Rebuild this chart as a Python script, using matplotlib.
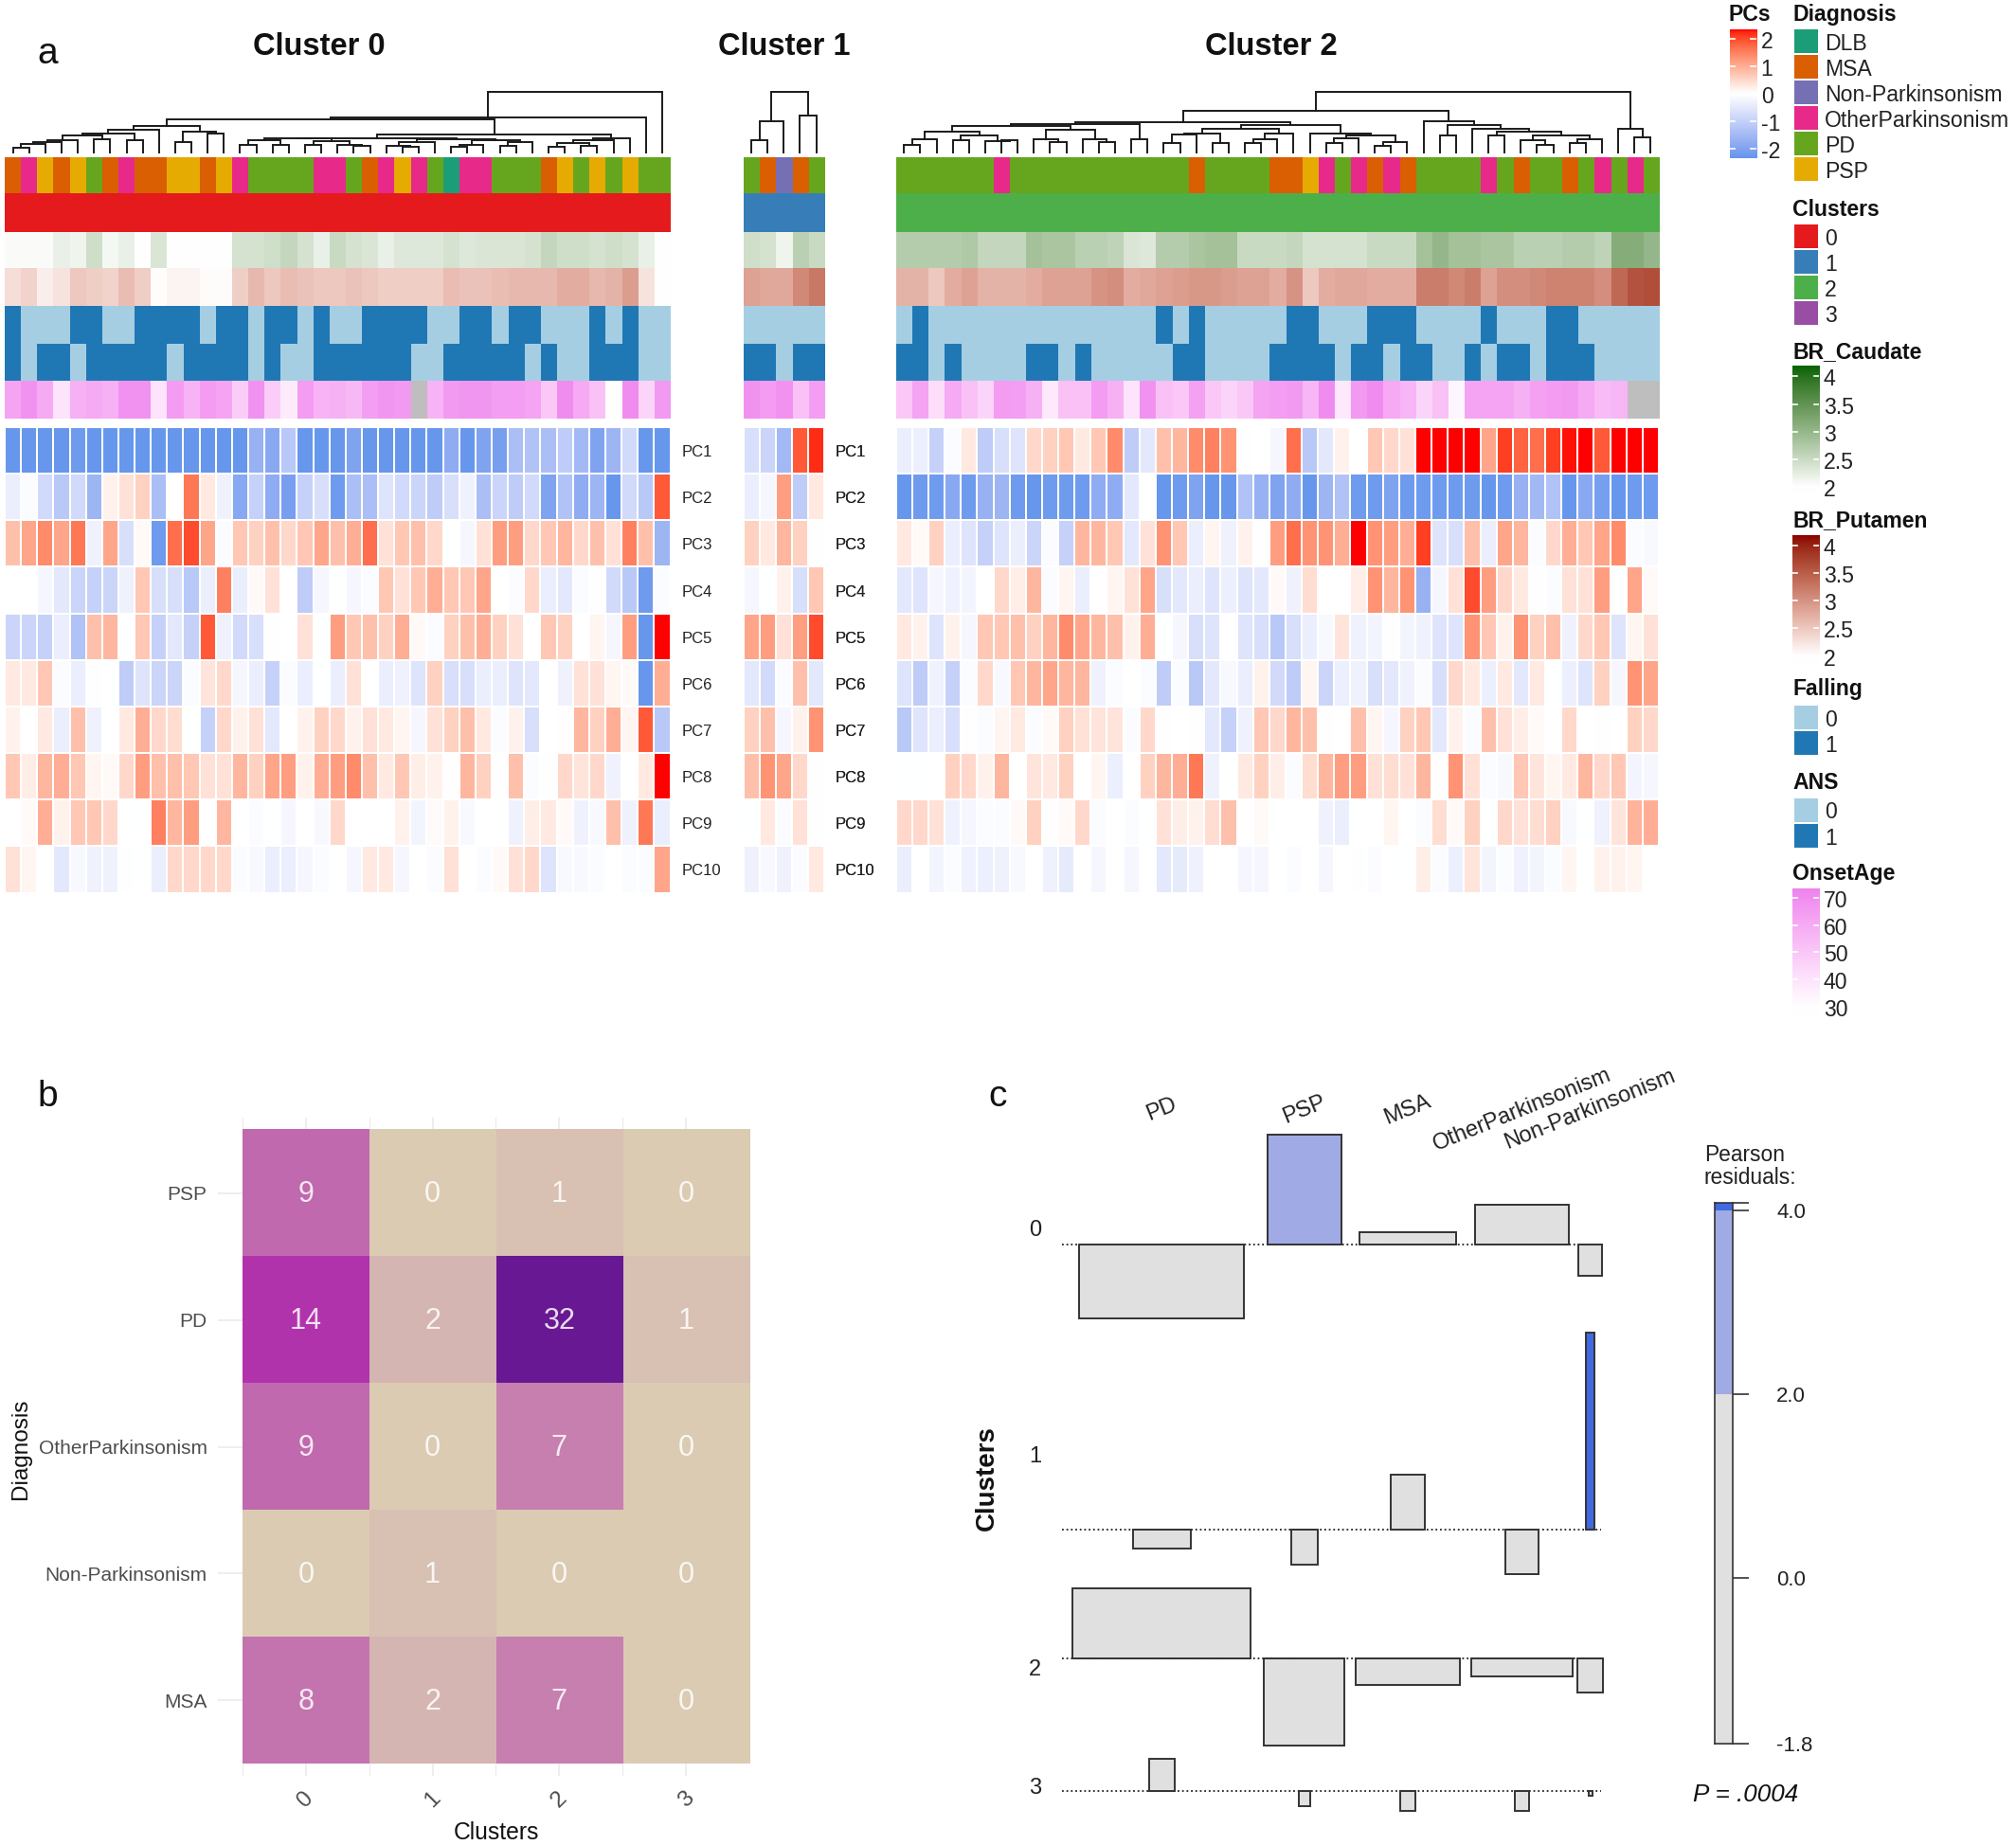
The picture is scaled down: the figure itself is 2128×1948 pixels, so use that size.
import numpy as np
import matplotlib
matplotlib.use("Agg")
from matplotlib import pyplot as plt
from matplotlib.colors import LinearSegmentedColormap, ListedColormap, to_rgb
from matplotlib.transforms import ScaledTranslation

plt.rcParams['font.family'] = ['Liberation Sans', 'DejaVu Sans']

W, H = 2128, 1948
nan = float('nan')

# ---- panel a data ----
pc_names = ["PC1", "PC2", "PC3", "PC4", "PC5", "PC6", "PC7", "PC8", "PC9", "PC10"]

pcs_c0 = [
    [-2.3,-2.3,-2.3,-2.3,-2.2,-2.3,-2.3,-2.3,-2.3,-2.3,-2.3,-2.3,-2.3,-2.3,-2.3,-1.7,-1.9,-1.2,-2.3,-2.3,-2.3,-2.0,-2.3,-2.3,-2.3,-2.3,-2.3,-1.8,-2.3,-2.0,-2.1,-1.4,-1.3,-1.4,-1.1,-1.5,-2.0,-1.6,-0.8,-2.3,-2.3],
    [-.4,-.1,-.8,-1.2,-.8,-1.6,.2,.4,.6,-1.4,0,1.6,.3,-.3,-1.9,-1.0,-1.8,-2.1,-1.0,-.7,-2.2,-1.4,-1.4,-.6,-.8,-.9,-1.1,-.7,-.3,-1.4,-.9,-1.1,-.8,-2.0,-1.3,-1.8,-1.6,-2.3,-.8,-1.2,1.9],
    [.8,1.1,1.4,1.1,1.6,-.3,1.1,-.7,.1,-2.2,1.7,2.0,1.1,-.1,.7,.6,.8,.5,.7,1.1,.8,1.0,1.7,.4,.7,.8,.5,-.05,-.2,.4,1.2,1.2,.5,.7,.9,.5,.8,.4,1.5,.8,-1.6],
    [0,.02,-.2,-.5,-.9,-1,-.9,-.3,.7,-.7,-.7,-1.2,-.4,1.5,-.4,.1,.4,0,-1.1,-.2,-.05,-.2,-.1,.7,.4,.7,1,.7,.7,1.1,-.02,-.1,.5,-.4,-.5,-.1,.05,-.8,-1.2,-2.2,-.1],
    [-.9,-.9,-1,-.4,-1.3,.8,.9,-.03,.7,-1,-.5,-1,1.9,-.3,-.8,-.7,.05,-.02,.4,-.05,1.2,.7,.8,.6,1,.1,-.1,.6,.8,1,.6,.4,-.03,.7,.6,0,.15,-.2,1.2,-2.3,2.4],
    [.3,.3,.7,-.1,-.4,.05,0,-1.1,-.6,-.9,-.9,-.1,.35,.5,-.2,-.4,-1,-.1,-.4,-.05,-.4,.4,.02,-.4,-.3,-.6,.6,-.7,-.7,-.4,-.4,-.6,-.5,0,-.3,.4,.4,.15,.1,-2.3,1],
    [.2,0,.3,-.4,.8,-.3,0,.3,1,.5,.45,-.05,-1,.5,.2,.4,-.5,0,.2,.6,.5,.2,.4,.3,.15,-.2,.4,.6,.8,.3,-.1,.2,-.7,0,.05,.9,.6,1,.15,1.9,-1.2],
    [.7,.25,.9,1,.7,.15,.1,.5,1.2,.8,.8,.7,.4,.4,.9,.6,1.1,1.2,.2,1,1.2,1.4,.8,.3,.7,.25,.2,.05,.9,.6,.05,.8,-.1,.05,.5,.35,.5,-.3,0,.3,2.4],
    [-.02,.1,1,.2,.7,.7,.5,0,-.05,1.5,.9,1.2,-.03,.9,0,-.1,-.05,-.2,-.02,-.15,.5,0,0,0,.2,-.25,.08,.2,-.15,0,-.05,-.3,.25,.3,.1,-.3,-.15,.8,-.3,1.6,-.4],
    [.4,.15,0,-.5,-.15,-.3,-.3,.05,-.05,-.4,.5,.5,.5,.5,-.1,-.15,-.4,-.4,-.2,-.1,0,-.2,.3,.3,-.2,-.03,-.1,.4,0,-.1,.1,.4,.5,-.6,-.15,-.15,-.1,0,-.1,-.1,1.1],
]
pcs_c1 = [
    [-.7,-.9,-1.5,1.9,2.2],
    [-.4,-.2,1.2,-1.1,.3],
    [.6,.3,.9,.6,.05],
    [-.2,-.05,.2,-.7,.7],
    [1.1,1.2,.4,1.2,2],
    [-.5,-.8,-.1,.8,-.5],
    [.6,.8,-.2,.2,1.3],
    [.8,1.3,1.1,.5,.05],
    [-.05,.3,-.1,.4,.05],
    [-.3,-.15,-.3,-.1,.3],
]
pcs_c2 = [
    [-.4,-.35,-1,-.1,.3,-1.1,-.7,-.6,.5,.6,.7,.3,.7,1.4,-1.1,-.5,.8,.9,1.4,1.5,1.3,.05,0,-.2,1.7,-1.2,-.5,.2,0,.7,.5,.4,2.4,2.4,2.4,2.4,1.1,2.1,1.8,1.7,2.1,2.3,2.4,1.9,2.4,2.4,2.4],
    [-2.3,-2.2,-2.2,-1.9,-2.2,-1.7,-1.6,-2.2,-2.3,-2.2,-2.2,-2.2,-1.8,-1.8,-.5,-.05,-2.3,-2.2,-2.0,-2.3,-2.3,-1.3,-1.7,-2.0,-1.8,-2.3,-1.6,-1.3,-2.2,-2.2,-2,-2.2,-2.2,-2.2,-2.2,-2.2,-2.3,-2.2,-1.7,-1.5,-1.3,-2.3,-1.9,-2.1,-2.3,-2.2,-2.2],
    [.3,.1,.6,-.4,-.6,-1,-.6,-.4,-.9,-.1,-1,.9,.9,.7,-.5,.4,1.3,.7,-.4,.15,-.3,.2,.05,1.2,1.7,1.3,1.3,1.0,2.4,1.3,1.2,1.0,2.1,-.6,-.7,.8,-.4,1.1,.9,-.1,.5,1,.7,1.1,1.4,-.1,-.15],
    [-.5,-.6,-.2,-.3,-.25,0,.5,.25,.9,-.1,.15,-.4,0,.15,.4,1.1,-.7,-.5,-.4,-.6,-.35,-.6,-.5,.1,-.3,.45,0,0,.25,1.3,.9,1.3,-1.7,-.2,.4,2,1.2,.5,.3,.05,-.1,.4,.4,1.2,-.05,1.1,.1],
    [.3,.2,-.6,.2,-.2,.7,.7,.8,.6,.9,1.4,1.1,.9,.8,.2,1.0,-.05,-.2,-.7,-.6,0,-.6,-.7,-1.2,-.7,-.4,-.15,.35,-.3,-.25,.05,-.25,-.3,-.6,-.6,1.3,.7,.2,1.3,.6,.8,-.3,.5,.7,-.6,.15,.4],
    [-.6,-1.1,-.3,-1,-.1,.5,-.15,.7,.9,1.1,.9,.9,-.3,-.1,0,-.1,-1.1,-.1,-1.2,-.5,-.15,-.4,.2,-.8,-1.1,.15,-.9,-.35,-.3,-.7,-.5,-.3,-.1,-.7,.5,.3,-.35,.3,-.5,.3,-.05,-.35,-.6,.6,-.2,1.3,1.1],
    [-1.2,-.6,-.4,-.7,.05,-.1,.15,.3,-.1,.1,.6,.4,.35,.35,-.1,.5,.05,0,.05,-.5,-1,-.3,.7,.5,.9,.8,.05,-.02,.8,.15,-.2,.6,.7,-.5,.2,-.1,.8,.4,.25,.1,0,.5,0,.05,0,.6,.5],
    [-.05,-.05,-.03,.6,.5,.2,.9,.03,.35,.3,.6,0,.15,-.35,-.03,.6,.9,1,1.6,-.3,-.05,.3,.6,.25,-.1,.45,.9,1.2,1.2,.4,.45,.4,.9,.05,1.3,.4,-.1,-.15,.7,.35,.15,.3,.9,.5,.7,-.25,-.2],
    [.5,.5,.4,-.3,-.2,-.1,-.1,.1,.6,.05,.1,.5,-.1,.03,-.1,-.05,.4,.25,.2,.45,.8,0,.1,-.05,0,-.02,-.3,-.4,-.05,0,.15,0,-.1,.45,.1,.6,-.05,.5,.4,.45,.6,-.15,-.05,-.3,.35,.95,1],
    [-.4,0,-.25,-.1,-.3,-.35,-.3,-.15,.03,-.3,-.45,0,-.2,.03,-.2,0,-.5,-.45,-.3,0,-.02,-.2,-.2,-.02,-.1,0,-.2,0,.05,-.1,-.03,-.05,.25,-.1,-.35,.35,-.25,-.1,-.3,-.25,-.1,.15,-.05,.2,.2,.15,-.02],
]

diag_c0 = "MOSMSPMOMMSSMSOPPPPOOPMOSOPDOOPPPMSPSPSPP"
diag_c1 = "PMNMP"
diag_c2 = "PPPPPPOPPPPPPPPPPPMPPPPMMSOPOMOMPPPPOPMPPMPOPOP"
diag_codes = "DMNOPS"
diag_names = ["DLB", "MSA", "Non-Parkinsonism", "OtherParkinsonism", "PD", "PSP"]
diag_colors = ["#1B9E77", "#D95F02", "#7570B3", "#E7298A", "#66A61E", "#E6AB02"]
cluster_colors = ["#E41A1C", "#377EB8", "#4DAF4A", "#984EA3"]
binary_colors = ["#A6CEE3", "#1F78B4"]

caudate_c0 = [2.05,2.05,2.05,2.2,2.15,2.45,2.1,2.2,2.0,2.35,2,2,2,2,2.4,2.4,2.45,2.55,2.4,2.2,2.5,2.4,2.35,2.2,2.3,2.3,2.3,2.4,2.3,2.35,2.35,2.35,2.4,2.55,2.45,2.45,2.4,2.45,2.4,2.2,2.0]
caudate_c1 = [2.45,2.4,2.15,2.65,2.5]
caudate_c2 = [2.7,2.7,2.7,2.7,2.75,2.55,2.55,2.55,2.85,2.8,2.8,2.65,2.65,2.6,2.35,2.3,2.7,2.7,2.8,2.85,2.85,2.5,2.5,2.5,2.55,2.4,2.4,2.4,2.4,2.5,2.5,2.5,2.85,3.0,2.85,2.85,2.8,2.8,2.65,2.65,2.65,2.7,2.7,2.6,3.15,3.15,3.0]

putamen_c0 = [2.3,2.4,2.15,2.25,2.5,2.45,2.4,2.6,2.45,2.02,2.1,2.1,2.03,2.03,2.45,2.65,2.5,2.6,2.55,2.5,2.5,2.55,2.5,2.45,2.45,2.45,2.45,2.6,2.55,2.55,2.6,2.65,2.65,2.65,2.75,2.75,2.65,2.7,2.9,2.25,2.0]
putamen_c1 = [2.85,2.8,2.8,3.1,3.25]
putamen_c2 = [2.7,2.7,2.5,2.75,2.85,2.7,2.7,2.7,2.75,2.85,2.85,2.85,3.0,3.05,2.75,2.8,2.85,2.9,2.95,2.95,2.9,2.85,2.85,2.75,3.0,2.5,2.75,2.8,2.8,2.75,2.75,2.75,3.2,3.2,3.1,3.2,2.85,3.05,3.05,3.1,3.15,3.15,3.15,3.05,3.4,3.6,3.65]

falling_c0 = [1,0,0,0,1,1,0,0,1,1,1,1,0,1,1,0,1,1,0,1,0,0,1,1,1,1,0,0,1,1,0,1,1,0,0,0,1,0,1,0,0]
falling_c1 = [0,0,0,0,0]
falling_c2 = [0,1,0,0,0,0,0,0,0,0,0,0,0,0,0,0,1,0,1,0,0,0,0,0,1,1,0,0,0,1,1,1,0,0,0,0,1,0,0,0,1,1,0,0,0,0,0]

ans_c0 = [1,0,1,1,0,1,1,1,1,1,0,1,1,1,1,0,1,0,0,1,1,1,1,1,1,0,0,1,1,1,1,1,0,1,0,0,1,1,1,0,0]
ans_c1 = [1,1,0,1,1]
ans_c2 = [1,1,0,1,0,0,0,0,1,1,0,1,0,0,0,0,0,1,1,0,0,0,0,1,1,1,1,0,1,1,0,1,1,0,0,1,0,1,1,0,1,1,1,0,0,0,0]

onset_c0 = [62,68,60,40,58,60,58,68,68,40,65,57,65,62,48,68,48,37,65,57,58,55,64,67,66,nan,57,66,67,67,64,64,62,50,70,60,52,30,70,45,66]
onset_c1 = [68,65,68,52,64]
onset_c2 = [50,62,42,60,52,45,65,64,58,38,52,52,65,58,40,68,52,50,63,50,45,50,62,64,66,56,70,38,66,70,60,56,45,52,33,62,62,62,58,63,65,66,60,54,56,nan,nan]

# dendrograms: (merge height, left, right), an int is a leaf
tree_c0 = (192,
    (110,
        (104,
            (82,
                (70, (59, (54, (37, (32, (25, (14, 0, 1), 2), 3), 4), (42, 5, 6)), (37, 7, 8)), 9),
                (64, (32, 10, 11), (59, 12, 13))),
            (56,
                (45,
                    (44, (37, (24, 14, 15), (24, 16, 17)), (34, (24, 18, 19), (24, 20, (20, 21, 22)))),
                    (42, (32, (20, 23, (17, 24, 25)), 26), (37, (24, (18, 27, 28), 29), (32, (20, 30, 31), 32)))),
                (44, (37, (29, (18, 33, 34), (20, 35, 36)), 37), 38))),
        39),
    40)
tree_c1 = (192, (97, (37, 0, 1), 2), (117, 3, 4))
tree_c2 = (192,
    (130,
        (95,
            (90,
                (82,
                    (64, (42, (24, 0, 1), 2), (54, (37, 3, 4), (34, 5, (37, 6, 7)))),
                    (70, (42, 8, (32, 9, 10)), (42, 11, (32, 12, 13)))),
                (42, 14, 15)),
            (85,
                (74, (59, (55, (30, 16, 17), 18), (30, 19, 20)), (59, (42, (29, 21, 22), 23), 24)),
                (59, 25, (54, (45, (29, 26, 27), 28), (32, (20, 29, 30), 31))))),
        (97, 32,
            (85, (52, 33, 34),
                (74, 35,
                    (64, (52, 36, 37),
                        (52, (37, 38, (24, 39, 40)), (42, (29, 41, 42), 43))))))),
    (74, 44, (47, 45, 46)))

# ---- panel b data ----
b_clusters = ["0", "1", "2", "3"]
b_diagnosis = ["MSA", "Non-Parkinsonism", "OtherParkinsonism", "PD", "PSP"]
b_counts = [
    [8, 2, 7, 0],
    [0, 1, 0, 0],
    [9, 0, 7, 0],
    [14, 2, 32, 1],
    [9, 0, 1, 0],
]

# ---- panel c data ----
c_columns = ["PD", "PSP", "MSA", "OtherParkinsonism", "Non-Parkinsonism"]
c_rows = ["0", "1", "2", "3"]
c_observed = np.array([
    [14, 9, 8, 9, 0],
    [2, 0, 2, 0, 1],
    [32, 1, 7, 7, 0],
    [1, 0, 0, 0, 0],
], dtype=float)


def add_ax(x0, y0, x1, y1):
    return fig.add_axes([x0 / W, 1 - y1 / H, (x1 - x0) / W, (y1 - y0) / H])


# the heatmap colour ramps of the original are interpolated in LAB, not RGB
XYZ = np.array([[0.4124, 0.3576, 0.1805], [0.2126, 0.7152, 0.0722], [0.0193, 0.1192, 0.9505]])
WHITE = np.array([0.95047, 1.0, 1.08883])


def to_lab(color):
    c = np.array(to_rgb(color))
    c = np.where(c > 0.04045, ((c + 0.055) / 1.055) ** 2.4, c / 12.92)
    t = XYZ @ c / WHITE
    f = np.where(t > 0.008856, np.cbrt(t), 7.787 * t + 16 / 116)
    return np.array([116 * f[1] - 16, 500 * (f[0] - f[1]), 200 * (f[1] - f[2])])


def from_lab(lab):
    fy = (lab[0] + 16) / 116
    f = np.array([fy + lab[1] / 500, fy, fy - lab[2] / 200])
    t = np.where(f ** 3 > 0.008856, f ** 3, (f - 16 / 116) / 7.787)
    c = np.linalg.solve(XYZ, t * WHITE)
    c = np.clip(c, 0, 1)
    return np.clip(np.where(c > 0.0031308, 1.055 * c ** (1 / 2.4) - 0.055, 12.92 * c), 0, 1)


def lab_ramp(name, colors, steps=32):
    out = []
    for a, b in zip(colors[:-1], colors[1:]):
        la, lb = to_lab(a), to_lab(b)
        out += [from_lab(la + (lb - la) * s) for s in np.linspace(0, 1, steps)]
    return LinearSegmentedColormap.from_list(name, out)


fig = plt.figure(figsize=(W / 100, H / 100), dpi=100)
lay = fig.add_axes([0, 0, 1, 1])
lay.set_xlim(0, W)
lay.set_ylim(H, 0)
lay.axis('off')

pc_cmap = lab_ramp("pcs", ["#6495ED", "white", "red"])
green_cmap = lab_ramp("caud", ["white", "#006400"])
red_cmap = lab_ramp("put", ["white", "#8B0000"])
violet_cmap = lab_ramp("onset", ["white", "#EE82EE"])
violet_cmap.set_bad("#BEBEBE")
PC_LIM = 2.34
BR_LIM = (2.0, 4.19)
ONSET_LIM = (30, 73.5)


def draw_tree(ax, node):
    # returns x position and height of the node
    if isinstance(node, int):
        return node + 0.5, 0
    h, left, right = node
    xl, hl = draw_tree(ax, left)
    xr, hr = draw_tree(ax, right)
    ax.plot([xl, xl, xr, xr], [hl, h, h, hr], color="#1a1a1a", lw=1.4, clip_on=False,
            solid_joinstyle='miter')
    return (xl + xr) / 2, h


def draw_cluster(x0, x1, title, title_x, tree, diag, cluster_i, caudate, putamen, falling, ans, onset, pcs, label_x):
    n = len(diag)
    lay.text(title_x, 49.5, title, fontsize=23.5, fontweight='bold', ha='center', va='center', color="#111111")
    ax = add_ax(x0, 96.7, x1, 160.7)
    draw_tree(ax, tree)
    ax.set_xlim(0, n)
    ax.set_ylim(0, 192)
    ax.axis('off')

    rows = [(166, 204.3), (204.3, 244.7), (244.7, 283), (283, 322.7), (322.7, 363.3), (363.3, 402), (402, 442)]
    diag_idx = [[diag_codes.index(d) for d in diag]]
    cells = [
        (diag_idx, ListedColormap(diag_colors), 0, 5),
        ([[cluster_i] * n], ListedColormap(cluster_colors), 0, 3),
        ([caudate], green_cmap, *BR_LIM),
        ([putamen], red_cmap, *BR_LIM),
        ([falling], ListedColormap(binary_colors), 0, 1),
        ([ans], ListedColormap(binary_colors), 0, 1),
        ([onset], violet_cmap, *ONSET_LIM),
    ]
    for (y0, y1), (vals, cmap, vmin, vmax) in zip(rows, cells):
        ax = add_ax(x0, y0, x1, y1)
        ax.imshow(np.ma.masked_invalid(np.array(vals, dtype=float)), cmap=cmap, vmin=vmin, vmax=vmax,
                  aspect='auto', interpolation='nearest')
        ax.axis('off')

    ax = add_ax(x0, 451, x1, 942.5)
    ax.pcolormesh(np.array(pcs), cmap=pc_cmap, vmin=-PC_LIM, vmax=PC_LIM, edgecolors='white', linewidth=1.4)
    ax.set_ylim(len(pcs), 0)
    ax.axis('off')
    for i, name in enumerate(pc_names):
        lay.text(label_x, 453 + 49.15 * (i + 0.5), name, fontsize=12, ha='left', va='center', color="#222222")


draw_cluster(5, 707.5, "Cluster 0", 337, tree_c0, diag_c0, 0, caudate_c0, putamen_c0, falling_c0, ans_c0, onset_c0, pcs_c0, 720)
draw_cluster(784.5, 870.2, "Cluster 1", 828, tree_c1, diag_c1, 1, caudate_c1, putamen_c1, falling_c1, ans_c1, onset_c1, pcs_c1, 882)
draw_cluster(945.7, 1751, "Cluster 2", 1342, tree_c2, diag_c2, 2, caudate_c2, putamen_c2, falling_c2, ans_c2, onset_c2, pcs_c2, 882)

# panel letters
lay.text(50, 57, "a", fontsize=28, ha='center', va='center', color="#111111")
lay.text(50, 1158, "b", fontsize=28, ha='center', va='center', color="#111111")
lay.text(1053, 1158, "c", fontsize=28, ha='center', va='center', color="#111111")


# ---- legends of panel a ----
LEG_FS = 16.6


def legend_title(x, y, text):
    lay.text(x, y + 1.5, text, fontsize=LEG_FS, fontweight='bold', ha='left', va='center', color="#111111")


def legend_swatches(x, y0, labels, colors):
    for i, (label, color) in enumerate(zip(labels, colors)):
        top = y0 + 27.0 * i
        ax = add_ax(x + 1.5, top, x + 26.5, top + 25)
        ax.set_facecolor(color)
        ax.set_xticks([])
        ax.set_yticks([])
        for s in ax.spines.values():
            s.set_visible(False)
        lay.text(x + 34, top + 15.5, label, fontsize=LEG_FS, ha='left', va='center', color="#222222")


def legend_bar(x, y0, y1, cmap, lo, hi, floor, ticks, labels):
    # lo..hi is the span of the bar, below floor the ramp stays white
    ax = add_ax(x, y0, x + 28.5, y1)
    ax.imshow(np.linspace(hi, lo, 256)[:, None], cmap=cmap, vmin=floor, vmax=hi, aspect='auto',
              extent=[0, 1, lo, hi])
    for t in ticks:
        ax.plot([0, 0.2], [t, t], color='white', lw=1.2)
        ax.plot([0.8, 1], [t, t], color='white', lw=1.2)
    ax.set_xlim(0, 1)
    ax.set_ylim(lo, hi)
    ax.axis('off')
    for t, label in zip(ticks, labels):
        y = y0 + (hi - t) / (hi - lo) * (y1 - y0)
        lay.text(x + 33, y + 3.5, label, fontsize=LEG_FS, ha='left', va='center', color="#222222")


legend_title(1825, 14, "PCs")
legend_bar(1825.7, 31.4, 166.8, pc_cmap, -PC_LIM, PC_LIM, -PC_LIM, [2, 1, 0, -1, -2], ["2", "1", "0", "-1", "-2"])
legend_title(1892, 14, "Diagnosis")
legend_swatches(1892, 31.4, diag_names, diag_colors)
legend_title(1892, 219.6, "Clusters")
legend_swatches(1892, 237, ["0", "1", "2", "3"], cluster_colors)
legend_title(1892, 369.6, "BR_Caudate")
legend_bar(1891.7, 386.4, 521, green_cmap, 1.88, 4.19, 2.0, [4, 3.5, 3, 2.5, 2], ["4", "3.5", "3", "2.5", "2"])
legend_title(1892, 548, "BR_Putamen")
legend_bar(1891.7, 565, 699.6, red_cmap, 1.88, 4.19, 2.0, [4, 3.5, 3, 2.5, 2], ["4", "3.5", "3", "2.5", "2"])
legend_title(1892, 726.4, "Falling")
legend_swatches(1892, 745, ["0", "1"], binary_colors)
legend_title(1892, 824.6, "ANS")
legend_swatches(1892, 842.5, ["0", "1"], binary_colors)
legend_title(1892, 921.4, "OnsetAge")
legend_bar(1891.7, 937.5, 1072, violet_cmap, 27, 73.5, 30, [70, 60, 50, 40, 30], ["70", "60", "50", "40", "30"])


# ---- panel b ----
b_cmap = LinearSegmentedColormap.from_list("counts", [(0, "#DBCBB3"), (14 / 32, "#B234AC"), (1, "#681893")])
ax = add_ax(230, 1180, 791, 1875)
ax.imshow(np.array(b_counts), cmap=b_cmap, vmin=0, vmax=32, origin='lower', aspect='auto', zorder=2,
          interpolation='nearest', extent=[-0.5, 3.5, -0.5, 4.5])
for i in range(len(b_diagnosis)):
    for j in range(len(b_clusters)):
        ax.text(j, i - 0.012, str(b_counts[i][j]), fontsize=22, color='white', alpha=0.85, ha='center', va='center', zorder=3)
ax.set_xlim(-0.694, 3.5)
ax.set_ylim(-0.597, 4.597)
ax.set_xticks(range(len(b_clusters)))
ax.set_xticklabels(b_clusters, rotation=45, ha='center', fontsize=17.5, color="#4d4d4d")
for label in ax.get_xticklabels():
    label.set_transform(label.get_transform() + ScaledTranslation(0.06, 0, fig.dpi_scale_trans))
ax.set_yticks(range(len(b_diagnosis)))
ax.set_yticklabels(b_diagnosis, fontsize=15, color="#4d4d4d")
ax.set_xticks([-0.5, 0.5, 1.5, 2.5], minor=True)
ax.tick_params(axis='both', which='both', length=0)
ax.tick_params(axis='y', pad=8.2)
ax.tick_params(axis='x', pad=9)
ax.grid(True, which='major', color="#ebebeb", lw=1.2)
ax.grid(True, which='minor', axis='x', color="#ebebeb", lw=0.8)
ax.set_axisbelow(True)
for s in ax.spines.values():
    s.set_visible(False)
lay.text(524, 1934.7, "Clusters", fontsize=17.8, ha='center', va='center', color="#111111")
lay.text(22, 1529.6, "Diagnosis", fontsize=17.5, rotation=90, ha='center', va='center', color="#111111")


# ---- panel c, association plot ----
row_tot = c_observed.sum(axis=1, keepdims=True)
col_tot = c_observed.sum(axis=0, keepdims=True)
expected = row_tot * col_tot / c_observed.sum()
residuals = (c_observed - expected) / np.sqrt(expected)
widths = np.sqrt(expected)

GAPS_X = np.array([0.37, 0.3, 0.3, 0.13])
GAP_Y = 0.285
UNIT_X = 37.8
UNIT_Y = 51.0
BASE_Y = 1313.6
MARGIN_X = 0.3
col_w = widths.max(axis=0)
col_left = np.concatenate([[0], np.cumsum(col_w[:-1] + GAPS_X)])
col_c = col_left + col_w / 2
total_x = col_left[-1] + col_w[-1]
pos = np.maximum(residuals.max(axis=1), 0)
neg = np.maximum(-residuals.min(axis=1), 0)
bases = [0.0]
for i in range(1, len(c_rows)):
    bases.append(bases[-1] - neg[i - 1] - pos[i] - GAP_Y)
y_top = 2.9
y_bot = bases[-1] - 1.0
ax = add_ax(1132.2 - MARGIN_X * UNIT_X, BASE_Y - y_top * UNIT_Y,
            1132.2 + (total_x + MARGIN_X) * UNIT_X, BASE_Y - y_bot * UNIT_Y)
ax.set_xlim(-MARGIN_X, total_x + MARGIN_X)
ax.set_ylim(y_bot, y_top)
ax.axis('off')


def shade(r):
    if r > 4:
        return "#4169E1"
    if r > 2:
        return "#A0AAE4"
    return "#E0E0E0"


for i, base in enumerate(bases):
    ax.plot([-MARGIN_X, total_x - 0.05], [base, base], color="#222222", lw=1.3, ls=(0, (1, 1.6)), zorder=1)
    ax.bar(col_c, residuals[i], width=widths[i], bottom=base, color=[shade(r) for r in residuals[i]],
           edgecolor="#333333", linewidth=1.4, zorder=2)
    y = base + (pos[i] - neg[i]) / 2
    ax.text(-1.05, y - 0.07, c_rows[i], fontsize=17, ha='center', va='center', color="#222222")
for name, x in zip(c_columns, col_c):
    ax.text(x, 2.78, name, fontsize=17, rotation=22, ha='center', va='center', color="#222222")
lay.text(1042, 1561, "Clusters", fontsize=20, fontweight='bold', rotation=90, ha='center', va='center', color="#111111")

# residual scale
scale_edges = [residuals.min(), 2, 4, residuals.max()]
scale_ticks = [residuals.max(), 4.0, 2.0, 0.0, residuals.min()]
scale_labels = ["", "4.0", "2.0", "0.0", "-1.8"]
ax = add_ax(1809.5, 1269.8, 1828.7, 1840.6)
ax.bar([0.5] * 3, np.diff(scale_edges), bottom=scale_edges[:-1], width=1,
       color=["#E0E0E0", "#A0AAE4", "#4169E1"], linewidth=0)
ax.set_xlim(0, 1)
ax.set_ylim(scale_edges[0], scale_edges[-1])
ax.set_xticks([])
ax.yaxis.tick_right()
ax.set_yticks(scale_ticks)
ax.set_yticklabels(scale_labels, fontsize=16, color="#222222")
ax.tick_params(axis='y', length=12.5, width=1.2, color="#333333", pad=21)
for s in ax.spines.values():
    s.set_color("#333333")
    s.set_linewidth(1.2)
lay.text(1799, 1219.6, "Pearson", fontsize=16.4, ha='left', va='center', color="#222222")
lay.text(1799, 1243.6, "residuals:", fontsize=16.4, ha='left', va='center', color="#222222")
lay.text(1787, 1894.6, "P = .0004", fontsize=18.7, style='italic', ha='left', va='center', color="#111111")

fig.savefig("out.png", dpi=100)
